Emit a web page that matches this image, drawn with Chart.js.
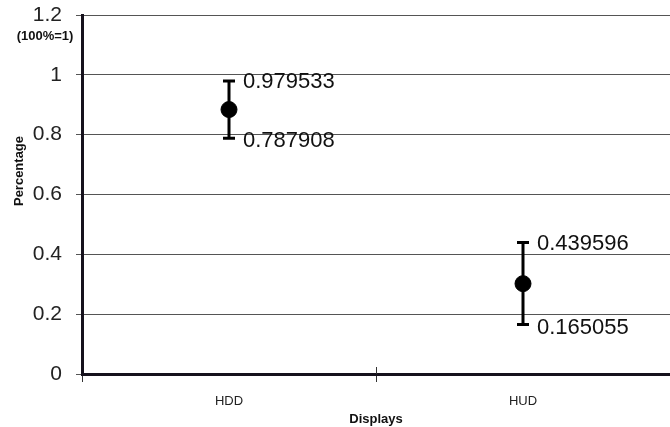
<!DOCTYPE html>
<html>
<head>
<meta charset="utf-8">
<script src="https://cdn.jsdelivr.net/npm/chart.js@4.4.1/dist/chart.umd.min.js"></script>
<style>
  body { margin: 0; background: #fff; }
  #wrap { width: 670px; height: 427px; }
</style>
</head>
<body>
<div id="wrap"><canvas id="chart" width="670" height="427"></canvas></div>
<script>
'use strict';
const categories = ['HDD', 'HUD'];
const meanValues = [0.884, 0.302];
const lowerValues = [0.787908, 0.165055];
const upperValues = [0.979533, 0.439596];
const yTicks = [0, 0.2, 0.4, 0.6, 0.8, 1, 1.2];

const FONT = '"Liberation Sans", Arial, sans-serif';
const AXIS_COLOR = '#15111c';

// error bars + value labels, drawn from the scales
const errorBars = {
  id: 'errorBars',
  beforeDatasetsDraw(chart) {
    const { ctx, scales: { x, y } } = chart;
    ctx.save();
    ctx.strokeStyle = '#000';
    ctx.lineWidth = 3;
    categories.forEach((c, i) => {
      const px = x.getPixelForValue(i);
      const top = y.getPixelForValue(upperValues[i]);
      const bot = y.getPixelForValue(lowerValues[i]);
      ctx.beginPath();
      ctx.moveTo(px, top); ctx.lineTo(px, bot);
      ctx.moveTo(px - 6, top); ctx.lineTo(px + 6, top);
      ctx.moveTo(px - 6, bot); ctx.lineTo(px + 6, bot);
      ctx.stroke();
    });
    // divider tick between categories, upper half
    ctx.lineWidth = 1;
    ctx.strokeStyle = '#333';
    for (let i = 1; i < categories.length; i++) {
      const bx = Math.round((x.getPixelForValue(i - 1) + x.getPixelForValue(i)) / 2) + 0.5;
      ctx.beginPath();
      ctx.moveTo(bx, chart.chartArea.bottom - 7);
      ctx.lineTo(bx, chart.chartArea.bottom);
      ctx.stroke();
    }
    ctx.restore();
  },
  afterDatasetsDraw(chart) {
    const { ctx, scales: { x, y } } = chart;
    ctx.save();
    ctx.fillStyle = '#111';
    ctx.font = '22px ' + FONT;
    ctx.textAlign = 'left';
    ctx.textBaseline = 'middle';
    categories.forEach((c, i) => {
      const px = x.getPixelForValue(i);
      ctx.fillText(String(upperValues[i]), px + 14, y.getPixelForValue(upperValues[i]) + 1);
      ctx.fillText(String(lowerValues[i]), px + 14, y.getPixelForValue(lowerValues[i]) + 3);
    });
    // y title and unit note
    ctx.font = 'bold 13px ' + FONT;
    ctx.textAlign = 'center';
    ctx.fillText('(100%=1)', 45, 36);
    ctx.save();
    ctx.translate(19, 171);
    ctx.rotate(-Math.PI / 2);
    ctx.fillText('Percentage', 0, 0);
    ctx.restore();
    ctx.restore();
  }
};

function renderChart() {
  const data = {
    labels: categories,
    datasets: [{
      data: meanValues,
      showLine: false,
      pointRadius: 8,
      pointHoverRadius: 8,
      pointBackgroundColor: '#000',
      pointBorderColor: '#000',
    }]
  };
  const chartConfig = {
    type: 'line',
    data: data,
    options: {
      responsive: false,
      animation: false,
      layout: { autoPadding: false, padding: { top: 15, right: 0, bottom: 0, left: 0 } },
      plugins: { legend: { display: false }, tooltip: { enabled: false } },
      scales: {
        x: {
          offset: true,
          grid: { offset: true, drawOnChartArea: false, color: '#333', tickLength: 8 },
          border: { color: AXIS_COLOR, width: 3 },
          ticks: { color: '#222', font: { family: FONT, size: 13 }, padding: 12 },
          title: { display: true, text: 'Displays', color: '#111', font: { family: FONT, size: 13, weight: 'bold' }, padding: { top: 2, bottom: 0 } },
          afterFit(scale) {
            scale.height = 53;
            scale.paddingLeft = 0; scale.paddingRight = 0;
          }
        },
        y: {
          min: 0,
          max: 1.2,
          afterBuildTicks(scale) { scale.ticks = yTicks.map(v => ({ value: v })); },
          grid: { color: '#555', lineWidth: 1, tickLength: 6 },
          border: { color: AXIS_COLOR, width: 3 },
          ticks: { color: '#222', font: { family: FONT, size: 21 }, padding: 14,
            callback: v => String(v) },
          afterFit(scale) {
            scale.width = 82;
            scale.paddingTop = 0; scale.paddingBottom = 0;
          }
        }
      }
    },
    plugins: [errorBars]
  };
  const myChart = new Chart(document.getElementById('chart'), chartConfig);
}
renderChart();
</script>
</body>
</html>
